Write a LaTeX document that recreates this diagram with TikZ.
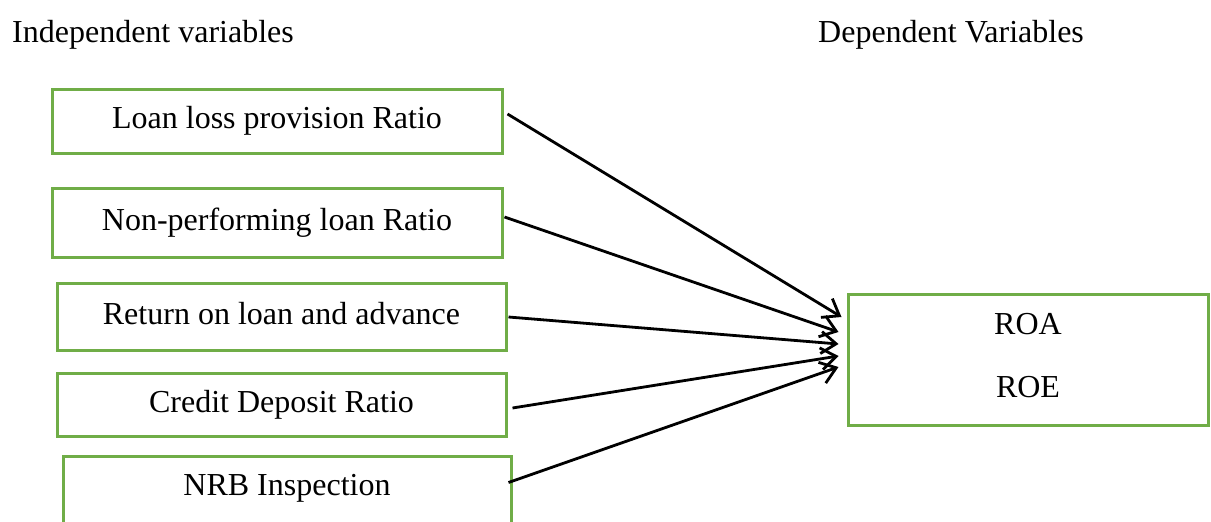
\documentclass[tikz,border=0pt]{standalone}
\usepackage{fontspec}
\setmainfont{Liberation Serif}
\usetikzlibrary{arrows.meta,calc}
\definecolor{boxgreen}{HTML}{70AD47}
\tikzset{
  varbox/.style={draw=boxgreen, line width=3pt, rectangle, inner sep=0pt,
    text height=22pt, text depth=7pt},
  txt/.style={inner sep=0pt, text height=22pt, text depth=7pt},
  link/.style={draw=black, line width=2.8pt,
    -{Straight Barb[length=15pt,width=22pt,line width=2.8pt]}},
}
\begin{document}
\begin{tikzpicture}[x=1pt,y=-1pt,font=\fontsize{32}{38}\selectfont]
\useasboundingbox (0,0) rectangle (1211,522);
\clip (0,0) rectangle (1211,522);

% headings
\node[anchor=base west, inner sep=0pt] (hin) at (12,42) {Independent variables};
\node[anchor=base west, inner sep=0pt] (hdep) at (818,42) {Dependent Variables};

% independent variables
\node[varbox, minimum width=450pt, minimum height=64pt] (b1) at (277,121) {Loan loss provision Ratio};
\node[varbox, minimum width=450pt, minimum height=69pt] (b2) at (277,222.5) {Non-performing loan Ratio};
\node[varbox, minimum width=449pt, minimum height=67pt] (b3) at (281.5,316.5) {Return on loan and advance};
\node[varbox, minimum width=449pt, minimum height=63pt] (b4) at (281.5,404.5) {Credit Deposit Ratio};
\node[varbox, minimum width=448pt, minimum height=90pt] (b5) at (287,501) {};
\node[txt] (t5) at (287,487.5) {NRB Inspection};

% dependent variables
\node[varbox, minimum width=360pt, minimum height=131pt] (res) at (1028,359.5) {};
\node[txt] (roa) at (1028,326.5) {ROA};
\node[txt] (roe) at (1028,389.5) {ROE};

% connector ends
\coordinate (s1) at ($(b1.east)+(4,-7)$);
\coordinate (s2) at ($(b2.east)+(1,-5.5)$);
\coordinate (s3) at ($(b3.east)+(1,0.5)$);
\coordinate (s4) at ($(b4.east)+(5,3.5)$);
\coordinate (s5) at ($(b5.north east)+(-4,28)$);
\coordinate (e1) at ($(res.west)+(-5,-42.5)$);
\coordinate (e2) at ($(res.west)+(-8,-27.5)$);
\coordinate (e3) at ($(res.west)+(-8,-15.5)$);
\coordinate (e4) at ($(res.west)+(-8,-3.5)$);
\coordinate (e5) at ($(res.west)+(-8,7.5)$);

\draw[link] (s1) -- (e1);
\draw[link] (s2) -- (e2);
\draw[link] (s3) -- (e3);
\draw[link] (s4) -- (e4);
\draw[link] (s5) -- (e5);
\end{tikzpicture}
\end{document}
